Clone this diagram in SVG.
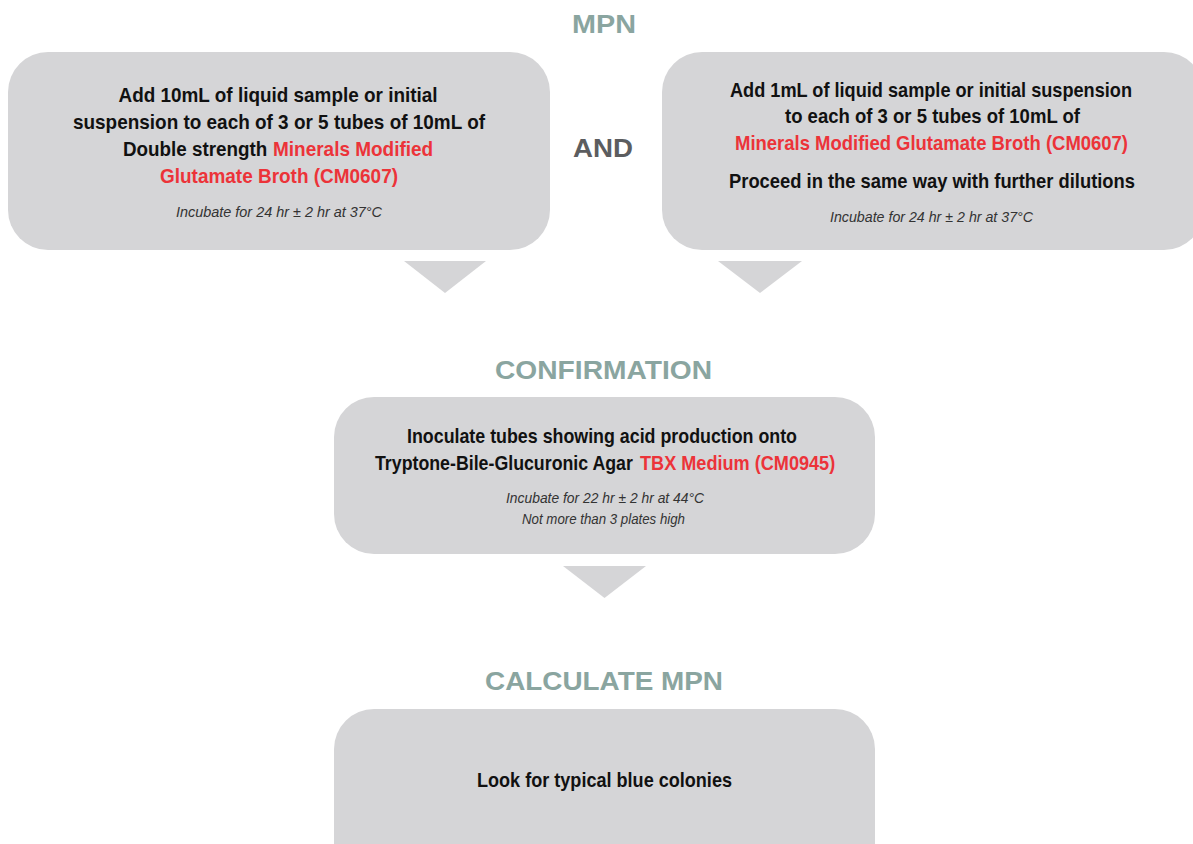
<svg xmlns="http://www.w3.org/2000/svg" width="1193" height="844" viewBox="0 0 1193 844">
<style>
.box{fill:#d5d5d7}
.arrow{fill:#d5d5d7}
.title{font-family:"Liberation Sans",Arial,sans-serif;font-weight:bold;font-size:26px;fill:#8aa5a0;text-anchor:middle}
.and{font-family:"Liberation Sans",Arial,sans-serif;font-weight:bold;font-size:26px;fill:#5c5d5f;text-anchor:middle}
.body{font-family:"Liberation Sans Narrow","Liberation Sans",Arial,sans-serif;font-weight:bold;font-size:21px;fill:#111;text-anchor:middle}
.start{text-anchor:start}
.red{fill:#ec3339}
.note{font-family:"Liberation Sans Narrow","Liberation Sans",Arial,sans-serif;font-style:italic;font-size:14.5px;fill:#333;text-anchor:middle}
</style>
<rect width="1193" height="844" fill="#ffffff"/>

<g id="title-mpn"><text class="title" x="604" y="33" textLength="64" lengthAdjust="spacingAndGlyphs">MPN</text></g>
<g id="label-and"><text class="and" x="603" y="157" textLength="60" lengthAdjust="spacingAndGlyphs">AND</text></g>
<g id="title-confirmation"><text class="title" x="603.5" y="379" textLength="217" lengthAdjust="spacingAndGlyphs">CONFIRMATION</text></g>
<g id="title-calculate"><text class="title" x="604" y="690" textLength="238" lengthAdjust="spacingAndGlyphs">CALCULATE MPN</text></g>

<g id="node-left">
<rect class="box" x="8" y="52" width="542" height="198" rx="40" ry="40"/>
<text class="body" x="278" y="102" textLength="319" lengthAdjust="spacingAndGlyphs">Add 10mL of liquid sample or initial</text>
<text class="body" x="279" y="129" textLength="412" lengthAdjust="spacingAndGlyphs">suspension to each of 3 or 5 tubes of 10mL of</text>
<text class="body start" transform="translate(123,156) scale(0.89,1)" x="0" y="0" textLength="162" lengthAdjust="spacingAndGlyphs">Double strength</text>
<text class="body start red" transform="translate(273,156) scale(0.9,1)" x="0" y="0" textLength="178" lengthAdjust="spacingAndGlyphs">Minerals Modified</text>
<text class="body red" x="279" y="183" textLength="238" lengthAdjust="spacingAndGlyphs">Glutamate Broth (CM0607)</text>
<text class="note" x="279" y="217" textLength="206" lengthAdjust="spacingAndGlyphs">Incubate for 24 hr ± 2 hr at 37°C</text>
</g>

<g id="node-right">
<rect class="box" x="662" y="52" width="542" height="198" rx="40" ry="40"/>
<text class="body" x="931" y="97" textLength="402" lengthAdjust="spacingAndGlyphs">Add 1mL of liquid sample or initial suspension</text>
<text class="body" x="932.5" y="123" textLength="295" lengthAdjust="spacingAndGlyphs">to each of 3 or 5 tubes of 10mL of</text>
<text class="body red" x="931.5" y="150" textLength="393" lengthAdjust="spacingAndGlyphs">Minerals Modified Glutamate Broth (CM0607)</text>
<text class="body" x="932" y="188" textLength="406" lengthAdjust="spacingAndGlyphs">Proceed in the same way with further dilutions</text>
<text class="note" x="931.5" y="222" textLength="203" lengthAdjust="spacingAndGlyphs">Incubate for 24 hr ± 2 hr at 37°C</text>
</g>

<g id="node-confirmation">
<rect class="box" x="334" y="397" width="541" height="157" rx="40" ry="40"/>
<text class="body" x="602" y="443" textLength="390" lengthAdjust="spacingAndGlyphs">Inoculate tubes showing acid production onto</text>
<text class="body start" transform="translate(375,470) scale(0.84,1)" x="0" y="0" textLength="307" lengthAdjust="spacingAndGlyphs">Tryptone-Bile-Glucuronic Agar</text>
<text class="body start red" transform="translate(640,470) scale(0.86,1)" x="0" y="0" textLength="227" lengthAdjust="spacingAndGlyphs">TBX Medium (CM0945)</text>
<text class="note" x="605" y="503" textLength="198" lengthAdjust="spacingAndGlyphs">Incubate for 22 hr ± 2 hr at 44°C</text>
<text class="note" x="603.5" y="524" textLength="163" lengthAdjust="spacingAndGlyphs">Not more than 3 plates high</text>
</g>

<g id="node-calculate">
<rect class="box" x="334" y="709" width="541" height="175" rx="40" ry="40"/>
<text class="body" x="604.5" y="787" textLength="255" lengthAdjust="spacingAndGlyphs">Look for typical blue colonies</text>
</g>

<g id="connectors">
<polygon class="arrow" points="404,261 486,261 445,293"/>
<polygon class="arrow" points="718,261 802,261 760,293"/>
<polygon class="arrow" points="563,566 646,566 604.5,598"/>
</g>
</svg>
